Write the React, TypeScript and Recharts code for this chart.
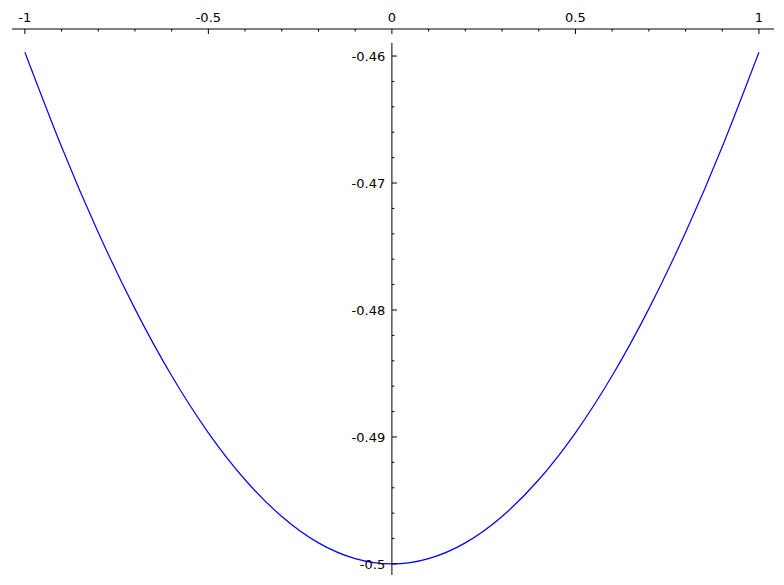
import { LineChart, Line, XAxis, YAxis, ReferenceLine } from "recharts";

const xValues = [-1, -0.9, -0.8, -0.7, -0.6, -0.5, -0.4, -0.3, -0.2, -0.1, 0, 0.1, 0.2, 0.3, 0.4, 0.5, 0.6, 0.7, 0.8, 0.9, 1];
const yValues = [
	-0.4597, -0.46715, -0.4739, -0.47991, -0.48518, -0.48967, -0.49337, -0.49626, -0.49834, -0.49958, -0.5,
	-0.49958, -0.49834, -0.49626, -0.49337, -0.48967, -0.48518, -0.47991, -0.4739, -0.46715, -0.4597,
];

const xMajorTicks = [-1, -0.5, 0, 0.5, 1];
const xMinorTicks = [-0.9, -0.8, -0.7, -0.6, -0.4, -0.3, -0.2, -0.1, 0.1, 0.2, 0.3, 0.4, 0.6, 0.7, 0.8, 0.9];
const yMajorTicks = [-0.5, -0.49, -0.48, -0.47, -0.46];
const yMinorTicks = [
	-0.498, -0.496, -0.494, -0.492, -0.488, -0.486, -0.484, -0.482, -0.478, -0.476, -0.474, -0.472, -0.468, -0.466,
	-0.464, -0.462,
];

const data = xValues.map((x, i) => ({ x, y: yValues[i] }));

const WIDTH = 784;
const HEIGHT = 585;
const Y_AXIS_WIDTH = 1;
const MARGIN = { top: 0, right: 10, bottom: 10, left: 12 - Y_AXIS_WIDTH };
const X_AXIS_HEIGHT = 29;
const X_DOMAIN: [number, number] = [-1.035, 1.041];
const Y_DOMAIN: [number, number] = [-0.50087, -0.45787];
const Y_AXIS_TOP = -0.45897;

const plotLeft = MARGIN.left + Y_AXIS_WIDTH;
const plotWidth = WIDTH - plotLeft - MARGIN.right;
// pixel column where x = 0 lands, the y axis sits there
const zeroX = plotLeft + ((0 - X_DOMAIN[0]) / (X_DOMAIN[1] - X_DOMAIN[0])) * plotWidth;
const axisY = MARGIN.top + X_AXIS_HEIGHT;

const FONT = "DejaVu Sans, sans-serif";
const FONT_SIZE = 13;

const isMajor = (v: number, list: number[]) => list.some((m) => Math.abs(m - v) < 1e-9);

function XTick(props: any) {
	const { x, payload } = props;
	const major = isMajor(payload.value, xMajorTicks);
	return (
		<g>
			<line x1={x} x2={x} y1={axisY} y2={axisY + (major ? 5 : 2.5)} stroke="#000" strokeWidth={1} />
			{major && (
				<text x={x} y={axisY - 7.3} textAnchor="middle" fontSize={FONT_SIZE} fontFamily={FONT} fill="#000">
					{String(payload.value)}
				</text>
			)}
		</g>
	);
}

function YTick(props: any) {
	const { y, payload } = props;
	const major = isMajor(payload.value, yMajorTicks);
	return (
		<g>
			<line x1={zeroX} x2={zeroX + (major ? 5 : 2.5)} y1={y} y2={y} stroke="#000" strokeWidth={1} />
			{major && (
				<text x={zeroX - 6.7} y={y + 4.7} textAnchor="end" fontSize={FONT_SIZE} fontFamily={FONT} fill="#000">
					{String(payload.value)}
				</text>
			)}
		</g>
	);
}

export default function App() {
	return (
		<div style={{ position: "absolute", left: 0, top: 0, width: WIDTH, height: HEIGHT, background: "#fff" }}>
			<LineChart width={WIDTH} height={HEIGHT} data={data} margin={MARGIN}>
				<XAxis
					dataKey="x"
					type="number"
					orientation="top"
					height={X_AXIS_HEIGHT}
					domain={X_DOMAIN}
					allowDataOverflow
					ticks={[...xMajorTicks, ...xMinorTicks].sort((a, b) => a - b)}
					interval={0}
					tickLine={false}
					tick={<XTick />}
					axisLine={{ stroke: "#000", strokeWidth: 1 }}
				/>
				<YAxis
					dataKey="y"
					type="number"
					width={Y_AXIS_WIDTH}
					domain={Y_DOMAIN}
					allowDataOverflow
					ticks={[...yMajorTicks, ...yMinorTicks].sort((a, b) => a - b)}
					interval={0}
					tickLine={false}
					axisLine={false}
					tick={<YTick />}
				/>
				<ReferenceLine
					segment={[
						{ x: 0, y: Y_AXIS_TOP },
						{ x: 0, y: Y_DOMAIN[0] },
					]}
					stroke="#000"
					strokeWidth={1}
					ifOverflow="visible"
				/>
				<Line
					type="natural"
					dataKey="y"
					stroke="#0000ff"
					strokeWidth={1.2}
					dot={false}
					isAnimationActive={false}
				/>
			</LineChart>
		</div>
	);
}
